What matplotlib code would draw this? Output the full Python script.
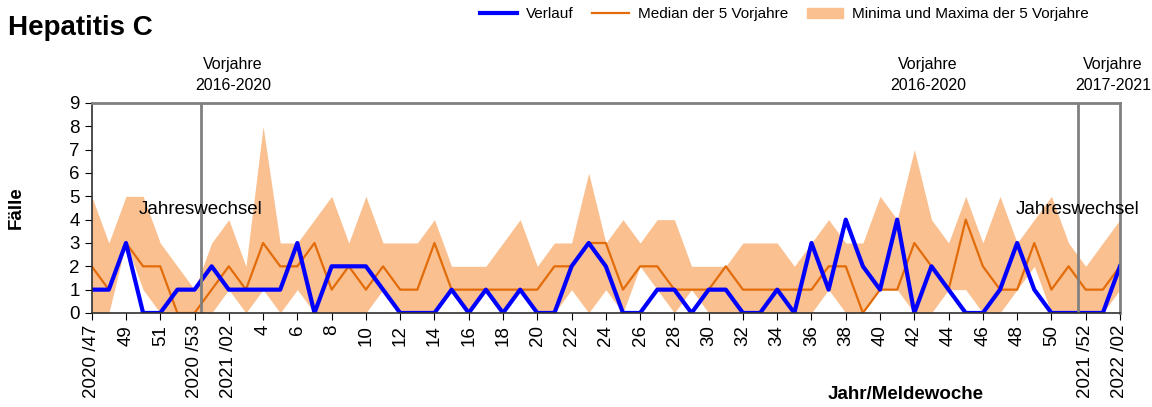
import numpy as np
import matplotlib
matplotlib.use("Agg")
import matplotlib.pyplot as plt
from matplotlib.lines import Line2D
from matplotlib.patches import Patch

plt.rcParams['font.family'] = ['Liberation Sans', 'DejaVu Sans']

# weeks 2020/47 .. 2022/02
weeks = ([f"2020/{w}" for w in range(47, 54)] + [f"2021/{w:02d}" for w in range(1, 53)]
         + ["2022/01", "2022/02"])

verlauf = [1, 1, 3, 0, 0, 1, 1, 2, 1, 1, 1, 1, 3, 0, 2, 2, 2, 1, 0, 0,
           0, 1, 0, 1, 0, 1, 0, 0, 2, 3, 2, 0, 0, 1, 1, 0, 1, 1, 0, 0,
           1, 0, 3, 1, 4, 2, 1, 4, 0, 2, 1, 0, 0, 1, 3, 1, 0, 0, 0, 0, 2]
median = [2, 1, 3, 2, 2, 0, 0, 1, 2, 1, 3, 2, 2, 3, 1, 2, 1, 2, 1, 1,
          3, 1, 1, 1, 1, 1, 1, 2, 2, 3, 3, 1, 2, 2, 1, 1, 1, 2, 1, 1,
          1, 1, 1, 2, 2, 0, 1, 1, 3, 2, 1, 4, 2, 1, 1, 3, 1, 2, 1, 1, 2]
minima = [0, 0, 3, 1, 0, 0, 0, 0, 1, 0, 1, 0, 1, 0, 0, 0, 0, 1, 0, 0,
          0, 1, 0, 1, 0, 1, 0, 0, 1, 0, 1, 0, 2, 1, 0, 1, 0, 0, 0, 0,
          0, 0, 0, 1, 0, 0, 1, 1, 0, 0, 1, 1, 0, 0, 1, 2, 0, 0, 0, 0, 1]
maxima = [5, 3, 5, 5, 3, 2, 1, 3, 4, 2, 8, 3, 3, 4, 5, 3, 5, 3, 3, 3,
          4, 2, 2, 2, 3, 4, 2, 3, 3, 6, 3, 4, 3, 4, 4, 2, 2, 2, 3, 3,
          3, 2, 3, 4, 3, 3, 5, 4, 7, 4, 3, 5, 3, 5, 3, 4, 5, 3, 2, 3, 4]

tick_labels = ["2020 /47", "49", "51", "2020 /53", "2021 /02"] + \
    [str(w) for w in range(4, 51, 2)] + ["2021 /52", "2022 /02"]

x = np.arange(len(weeks))

fig = plt.figure(figsize=(11.52, 4.07), dpi=100)
ax = fig.add_axes([0.0796, 0.231, 0.8926, 0.516])

ax.fill_between(x, minima, maxima, color="#FAC090", lw=0)
ax.plot(x, median, color="#E36C0A", lw=1.6)
ax.plot(x, verlauf, color="#0000FF", lw=3)

# Jahreswechsel
for xv in [6.36, 57.55]:
    ax.axvline(xv, color="#808080", lw=2)
    ax.text(xv, 4.45, "Jahreswechsel", ha="center", va="center", fontsize=13.5)

for xv, txt in [(8.24, "Vorjahre\n2016-2020"), (48.8, "Vorjahre\n2016-2020"),
                (59.6, "Vorjahre\n2017-2021")]:
    ax.text(xv, 1.135, txt, ha="center", va="center", fontsize=11.5,
            transform=ax.get_xaxis_transform(), linespacing=1.5)

ax.set_xlim(0, 60)
ax.set_ylim(0, 9)
ax.set_yticks(range(10))
ax.set_xticks(x[::2])
ax.set_xticklabels(tick_labels, rotation=90)
ax.tick_params(axis="both", labelsize=13.5, length=5, direction="out")
for s in ["top", "right"]:
    ax.spines[s].set_color("#808080")
    ax.spines[s].set_linewidth(2)
for s in ["left", "bottom"]:
    ax.spines[s].set_color("#303030")
    ax.spines[s].set_linewidth(1.2)

ax.set_ylabel("Fälle", fontsize=13.5, fontweight="bold", labelpad=32)
fig.text(0.786, 0.03, "Jahr/Meldewoche", ha="center", va="center",
         fontsize=13.5, fontweight="bold")
fig.text(0.007, 0.931, "Hepatitis C", ha="left", va="center",
         fontsize=20, fontweight="bold")

handles = [Line2D([], [], color="#0000FF", lw=3),
           Line2D([], [], color="#E36C0A", lw=1.6),
           Patch(color="#FAC090")]
fig.legend(handles, ["Verlauf", "Median der 5 Vorjahre", "Minima und Maxima der 5 Vorjahre"],
           ncol=3, loc="center left", bbox_to_anchor=(0.405, 0.965), frameon=False,
           fontsize=11, handlelength=2.4, columnspacing=1.2, handletextpad=0.6)

fig.savefig("out.png", dpi=100)
